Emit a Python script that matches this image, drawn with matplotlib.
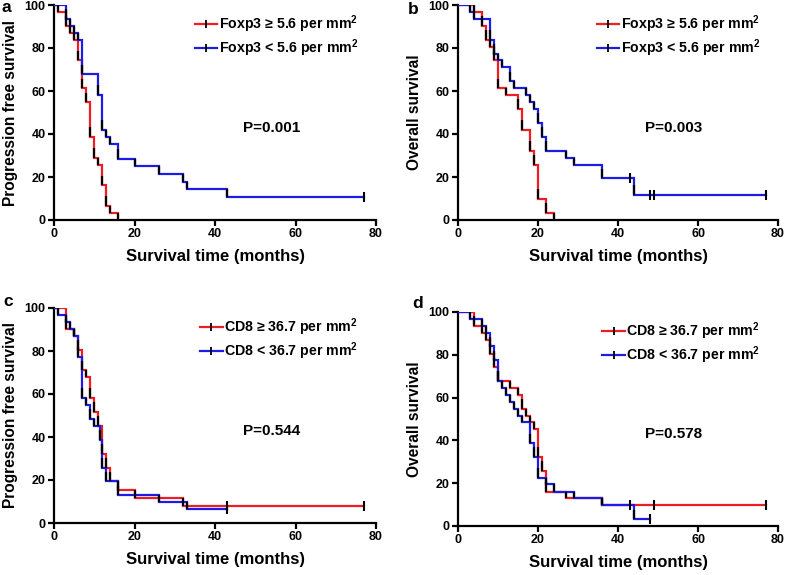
import matplotlib
matplotlib.use("Agg")
import matplotlib.pyplot as plt
from matplotlib.lines import Line2D

plt.rcParams['font.family'] = ['Liberation Sans', 'DejaVu Sans']
plt.rcParams['font.weight'] = 'bold'
plt.rcParams['mathtext.fontset'] = 'custom'
plt.rcParams['mathtext.rm'] = 'Liberation Sans:bold'
plt.rcParams['mathtext.bf'] = 'Liberation Sans:bold'

RED = '#ee1c24'
BLUE = '#1c1ce6'

# панель a: выживаемость без прогрессии, Foxp3
a_hi_t = [0, 1, 3, 4, 5, 6, 7, 8, 9, 10, 11, 12, 13, 14, 16]
a_hi_s = [100, 96.8, 90.3, 87.1, 83.9, 74.2, 61.3, 54.8, 38.7, 29.0, 25.8, 16.1, 6.5, 3.2, 0]
a_hi_c = []
a_lo_t = [0, 3, 4, 5, 6, 7, 11, 12, 13, 14, 16, 20, 26, 32, 33, 43, 77]
a_lo_s = [100, 93.5, 90.3, 87.1, 83.9, 67.7, 58.1, 41.9, 38.7, 35.5, 28.4, 25.2, 21.5, 17.7, 14.3, 10.7, 10.7]
a_lo_c = [77]

# панель b: общая выживаемость, Foxp3
b_hi_t = [0, 4, 6, 7, 8, 9, 10, 12, 15, 16, 18, 19, 20, 22, 24]
b_hi_s = [100, 96.8, 90.3, 83.9, 80.6, 74.2, 61.3, 58.1, 51.6, 41.9, 32.3, 25.8, 9.7, 3.2, 0]
b_hi_c = []
b_lo_t = [0, 3, 4, 8, 9, 10, 11, 13, 14, 17, 18, 19, 20, 21, 22, 27, 29, 36, 44, 77]
b_lo_s = [100, 96.8, 93.5, 83.9, 77.4, 74.2, 71.0, 64.5, 61.3, 58.1, 54.8, 51.6, 45.2, 38.7, 32.3, 29.0, 25.8, 19.4, 11.6, 11.6]
b_lo_c = [43, 48, 49, 77]

# панель c: выживаемость без прогрессии, CD8
c_hi_t = [0, 3, 5, 6, 7, 8, 9, 10, 11, 12, 13, 14, 16, 20, 32, 77]
c_hi_s = [100, 90.3, 87.1, 80.6, 71.0, 67.7, 58.1, 51.6, 45.2, 32.3, 25.8, 19.4, 15.5, 11.6, 7.7, 7.7]
c_hi_c = [43, 77]
c_lo_t = [0, 1, 3, 4, 5, 6, 7, 8, 9, 10, 11.5, 12, 13, 16, 26, 33, 43]
c_lo_s = [100, 96.8, 93.5, 90.3, 87.1, 77.4, 58.1, 54.8, 48.4, 45.2, 38.7, 25.8, 19.4, 12.9, 9.7, 6.5, 6.5]
c_lo_c = [43]

# панель d: общая выживаемость, CD8
d_hi_t = [0, 4, 6, 7, 8, 9, 10, 13, 15, 16, 17, 18, 19, 20, 21, 22, 27, 36, 77]
d_hi_s = [100, 93.5, 90.3, 87.1, 80.6, 74.2, 67.7, 64.5, 61.3, 54.8, 51.6, 48.4, 45.2, 32.3, 25.8, 16.1, 12.9, 9.7, 9.7]
d_hi_c = [49, 77]
d_lo_t = [0, 3, 6, 7, 8, 9, 10, 11, 12, 13, 14, 15, 16, 18, 19, 20, 22, 24, 29, 36, 44, 48]
d_lo_s = [100, 96.8, 93.5, 90.3, 83.9, 77.4, 67.7, 64.5, 61.3, 58.1, 54.8, 51.6, 48.4, 38.7, 32.3, 22.6, 19.4, 16.1, 12.9, 9.7, 3.2, 3.2]
d_lo_c = [43, 48]

foxp3_labels = [r'Foxp3 ≥ 5.6 per mm$^2$', r'Foxp3 < 5.6 per mm$^2$']
cd8_labels = [r'CD8 ≥ 36.7 per mm$^2$', r'CD8 < 36.7 per mm$^2$']
p_values = ['P=0.001', 'P=0.003', 'P=0.544', 'P=0.578']
y_titles = ['Progression free survival', 'Overall survival',
            'Progression free survival', 'Overall survival']
letters = ['a', 'b', 'c', 'd']


def km_curve(ax, t, s, cens, color):
    ax.step(t, s, where='post', color=color, lw=1.6, solid_joinstyle='miter', zorder=3)
    # чёрные кусочки внизу каждого падения
    for i in range(1, len(t)):
        drop = s[i - 1] - s[i]
        if drop > 0:
            ax.vlines(t[i], s[i], s[i] + min(drop, 4.5), color='black', lw=1.6, zorder=4)
    for c in cens:
        y = s[0]
        for ti, si in zip(t, s):
            if ti <= c:
                y = si
        ax.plot([c], [y], marker='|', color='black', markersize=7, mew=1.5, zorder=5)


fig = plt.figure(figsize=(7.87, 5.75), dpi=100)
W, H = 787, 575
boxes = [(54, 5, 322, 215), (458, 5, 320, 215), (54, 308, 322, 215), (458, 312, 320, 214)]
letter_pos = [(2, 8), (408, 10), (3, 302), (412, 303)]
panels = [
    (a_hi_t, a_hi_s, a_hi_c, a_lo_t, a_lo_s, a_lo_c, foxp3_labels),
    (b_hi_t, b_hi_s, b_hi_c, b_lo_t, b_lo_s, b_lo_c, foxp3_labels),
    (c_hi_t, c_hi_s, c_hi_c, c_lo_t, c_lo_s, c_lo_c, cd8_labels),
    (d_hi_t, d_hi_s, d_hi_c, d_lo_t, d_lo_s, d_lo_c, cd8_labels),
]

for k, (box, p) in enumerate(zip(boxes, panels)):
    x0, y0, w, h = box
    ax = fig.add_axes([x0 / W, 1 - (y0 + h) / H, w / W, h / H])
    hi_t, hi_s, hi_c, lo_t, lo_s, lo_c, labels = p
    km_curve(ax, hi_t, hi_s, hi_c, RED)
    km_curve(ax, lo_t, lo_s, lo_c, BLUE)
    ax.set_xlim(0, 80)
    ax.set_ylim(0, 100)
    ax.set_xticks([0, 20, 40, 60, 80])
    ax.set_yticks([0, 20, 40, 60, 80, 100])
    for side in ['top', 'right']:
        ax.spines[side].set_visible(False)
    for side in ['left', 'bottom']:
        ax.spines[side].set_linewidth(1.6)
    ax.tick_params(direction='out', length=4, width=1.6, labelsize=9, pad=2)
    ax.set_xlabel('Survival time (months)', fontsize=12, fontweight='bold', labelpad=6)
    ax.set_ylabel(y_titles[k], fontsize=11.2, fontweight='bold', labelpad=5)
    ax.text(54, 43, p_values[k], fontsize=11, fontweight='bold', ha='center', va='center')
    handles = [Line2D([], [], color=RED, lw=1.6, marker='|', markeredgecolor='black', markersize=6, mew=1.3),
               Line2D([], [], color=BLUE, lw=1.6, marker='|', markeredgecolor='black', markersize=6, mew=1.3)]
    ax.legend(handles, labels, loc='upper right', bbox_to_anchor=(0.945, 0.96), frameon=False,
              prop={'weight': 'bold', 'size': 10.2}, handlelength=1.6, handletextpad=0.1,
              labelspacing=0.15, borderpad=0, borderaxespad=0)
    lx, ly = letter_pos[k]
    fig.text(lx / W, 1 - ly / H, letters[k], fontsize=12.5, fontweight='bold',
             ha='left', va='center')

fig.savefig('out.png', dpi=100)
